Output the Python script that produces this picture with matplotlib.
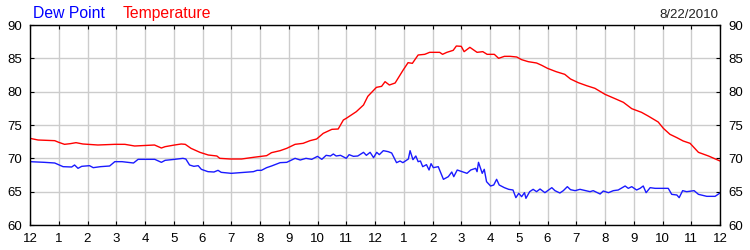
import matplotlib
matplotlib.use("Agg")
import matplotlib.pyplot as plt
from matplotlib.ticker import MultipleLocator

plt.rcParams['font.family'] = ['Liberation Sans', 'DejaVu Sans']

# hours since midnight and readings
temp_hours = [0, 0.28, 0.86, 1.0, 1.2, 1.4, 1.6, 1.84, 2.36, 2.95, 3.3, 3.64, 4.33,
              4.57, 4.7, 5.03, 5.26, 5.4, 5.6, 5.91, 6.2, 6.5, 6.6, 6.96, 7.36,
              7.77, 8.23, 8.4, 8.7, 8.93, 9.22, 9.5, 9.74, 9.97, 10.2, 10.5,
              10.72, 10.9, 11.0, 11.35, 11.6, 11.75, 12.05, 12.23, 12.35, 12.5,
              12.7, 12.98, 13.15, 13.3, 13.5, 13.73, 13.9, 14.25, 14.35, 14.5,
              14.72, 14.83, 15.0, 15.1, 15.3, 15.55, 15.75, 15.9, 16.15, 16.3,
              16.5, 16.7, 16.93, 17.1, 17.33, 17.62, 17.8, 18.0, 18.3, 18.6,
              18.8, 19.07, 19.36, 19.65, 20.0, 20.35, 20.64, 20.93, 21.27, 21.5,
              21.85, 22.03, 22.26, 22.5, 22.72, 22.96, 23.25, 23.6, 24.0]
temp_vals = [73.0, 72.75, 72.65, 72.4, 72.1, 72.2, 72.35, 72.15, 72.0, 72.1, 72.1,
             71.85, 72.0, 71.55, 71.75, 72.0, 72.15, 72.1, 71.5, 70.9, 70.5, 70.35,
             70.0, 69.9, 69.9, 70.15, 70.4, 70.85, 71.15, 71.5, 72.1, 72.25, 72.65,
             72.9, 73.75, 74.35, 74.4, 75.75, 76.0, 77.0, 78.0, 79.3, 80.65, 80.8,
             81.5, 81.0, 81.3, 83.25, 84.35, 84.25, 85.5, 85.6, 85.9, 85.9, 85.6,
             85.9, 86.2, 86.85, 86.8, 86.0, 86.65, 85.9, 86.0, 85.6, 85.6, 85.0,
             85.3, 85.3, 85.2, 84.8, 84.5, 84.3, 83.95, 83.5, 83.0, 82.6, 81.9,
             81.35, 80.9, 80.5, 79.6, 78.95, 78.4, 77.45, 76.9, 76.35, 75.45, 74.5,
             73.6, 73.1, 72.6, 72.25, 70.9, 70.35, 69.6]

dew_hours = [0, 0.5, 0.86, 1.15, 1.45, 1.55, 1.67, 1.8, 2.07, 2.2, 2.45, 2.77, 2.95,
             3.2, 3.6, 3.76, 4.34, 4.57, 4.7, 5.03, 5.32, 5.42, 5.55, 5.7, 5.85,
             5.96, 6.19, 6.4, 6.54, 6.65, 7.0, 7.77, 7.9, 8.05, 8.23, 8.4, 8.7,
             8.93, 9.22, 9.4, 9.6, 9.8, 10.0, 10.15, 10.3, 10.45, 10.55, 10.65,
             10.8, 11.0, 11.1, 11.25, 11.4, 11.6, 11.7, 11.83, 11.95, 12.06, 12.15,
             12.29, 12.46, 12.58, 12.75, 12.87, 12.97, 13.16, 13.22, 13.32, 13.42,
             13.5, 13.58, 13.66, 13.79, 13.88, 13.95, 14.03, 14.2, 14.38, 14.55,
             14.67, 14.74, 14.86, 15.1, 15.2, 15.33, 15.5, 15.55, 15.6, 15.73,
             15.8, 15.88, 16.02, 16.13, 16.23, 16.32, 16.5, 16.65, 16.8, 16.9,
             17.0, 17.1, 17.2, 17.25, 17.38, 17.5, 17.62, 17.74, 17.91, 18.15,
             18.26, 18.43, 18.55, 18.69, 18.8, 18.96, 19.13, 19.48, 19.59, 19.83,
             19.94, 20.12, 20.29, 20.46, 20.7, 20.81, 20.93, 21.1, 21.22, 21.33,
             21.43, 21.57, 21.74, 22.2, 22.32, 22.5, 22.58, 22.7, 22.84, 23.1,
             23.25, 23.54, 23.83, 24.0]
dew_vals = [69.5, 69.4, 69.3, 68.75, 68.7, 69.0, 68.5, 68.8, 68.9, 68.6, 68.75, 68.85,
            69.5, 69.5, 69.3, 69.85, 69.85, 69.4, 69.7, 69.85, 70.0, 69.9, 69.0,
            68.8, 68.9, 68.35, 68.0, 67.95, 68.2, 67.9, 67.75, 68.0, 68.2, 68.2,
            68.6, 68.85, 69.35, 69.4, 70.0, 69.75, 70.0, 69.85, 70.3, 69.85, 70.45,
            70.35, 70.65, 70.35, 70.45, 70.0, 70.55, 70.3, 70.35, 70.9, 70.45,
            70.9, 70.1, 70.9, 70.55, 71.15, 71.0, 70.8, 69.35, 69.6, 69.35, 69.9,
            71.15, 69.8, 70.35, 69.5, 69.6, 68.75, 69.05, 68.25, 69.2, 68.6, 68.75,
            66.85, 67.25, 67.95, 67.25, 68.25, 67.9, 67.75, 68.25, 68.5, 68.0, 69.4,
            67.75, 68.35, 66.5, 65.85, 66.0, 66.85, 66.0, 65.6, 65.35, 65.25, 64.1,
            64.75, 64.25, 64.85, 64.0, 65.0, 65.35, 65.0, 65.4, 64.85, 65.6, 65.15,
            64.8, 65.15, 65.75, 65.3, 65.15, 65.35, 65.0, 65.15, 64.65, 65.1, 64.85,
            65.15, 65.25, 65.85, 65.5, 65.75, 65.25, 65.5, 65.85, 64.85, 65.6, 65.5,
            65.5, 64.6, 64.5, 64.1, 65.15, 65.0, 65.15, 64.6, 64.3, 64.3, 64.8]

hour_ticks = list(range(25))
hour_labels = [str((h - 1) % 12 + 1) for h in hour_ticks]
date_text = "8/22/2010"

fig = plt.figure(figsize=(7.5, 2.5), dpi=100)
ax = fig.add_axes([0.04, 0.1, 0.92, 0.8])

ax.plot(temp_hours, temp_vals, color='#ff0000', lw=1.0)
ax.plot(dew_hours, dew_vals, color='#1a1aff', lw=1.0)

ax.set_xlim(0, 24)
ax.set_ylim(60, 90)
ax.set_xticks(hour_ticks)
ax.set_xticklabels(hour_labels)
ax.yaxis.set_major_locator(MultipleLocator(5))
ax.grid(True, color='#cccccc', lw=1.0)
ax.set_axisbelow(True)

for sp in ax.spines.values():
    sp.set_color('black')
    sp.set_linewidth(1.0)

ax.tick_params(axis='x', direction='in', length=3, pad=6, labelsize=9.5, top=True)
ax.tick_params(axis='y', direction='in', length=3, labelsize=9.5,
               right=True, labelright=True)
ax.tick_params(axis='y', which='major', pad=6)

fig.text(33 / 750, 1 - 18 / 250, "Dew Point", color='#0000ff', fontsize=11.3,
         ha='left', va='baseline')
fig.text(123 / 750, 1 - 18 / 250, "Temperature", color='#ff0000', fontsize=11.3,
         ha='left', va='baseline')
fig.text(718 / 750, 1 - 17.5 / 250, date_text, color='#222222', fontsize=9.5,
         ha='right', va='baseline')

fig.savefig("out.png", dpi=100)
